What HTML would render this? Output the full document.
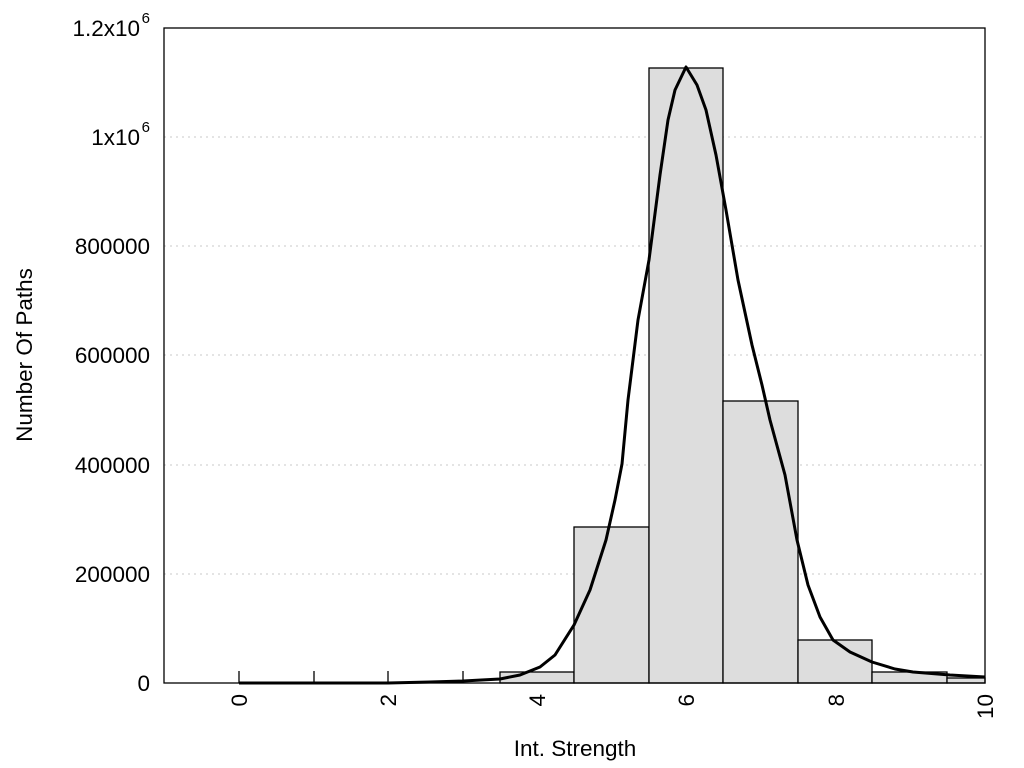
<!DOCTYPE html>
<html><head><meta charset="utf-8"><style>body{margin:0;background:#fff}svg{display:block}text{font-family:"Liberation Sans",sans-serif;font-size:22.5px;fill:#000}</style></head><body>
<svg width="1024" height="768" viewBox="0 0 1024 768">
<g stroke="#c8c8c8" stroke-width="1" stroke-dasharray="2,4">
<line x1="164" y1="137" x2="985" y2="137"/><line x1="164" y1="246" x2="985" y2="246"/><line x1="164" y1="355" x2="985" y2="355"/><line x1="164" y1="465" x2="985" y2="465"/><line x1="164" y1="574" x2="985" y2="574"/>
</g>
<g fill="#dddddd" stroke="#000" stroke-width="1.3">
<rect x="500" y="672" width="74" height="11"/>
<rect x="574" y="527" width="75" height="156"/>
<rect x="649" y="68" width="74" height="615"/>
<rect x="723" y="401" width="75" height="282"/>
<rect x="798" y="640" width="74" height="43"/>
<rect x="872" y="672" width="75" height="11"/>
<rect x="947" y="678" width="38" height="5"/>
</g>
<g stroke="#000" stroke-width="1.3">
<line x1="239" y1="671" x2="239" y2="683"/><line x1="314" y1="671" x2="314" y2="683"/><line x1="388" y1="671" x2="388" y2="683"/><line x1="463" y1="671" x2="463" y2="683"/>
</g>
<polyline fill="none" stroke="#000" stroke-width="3" stroke-linejoin="round" points="239,683 314,683 388,683 430,682 463,681 500,679 520,675 540,667 555,655 574,625 590,590 606,540 615,500 622,464 628,400 638,320 649,260 660,175 668,120 675,90 686,67 697,85 706,110 716,155 726,210 738,280 752,345 762,385 770,420 785,475 797,540 808,585 820,617 833,640 850,652 872,662 895,669 913,672 950,675 985,677"/>
<rect x="164" y="28" width="821" height="655" fill="none" stroke="#000" stroke-width="1.3"/>
<g text-anchor="end">
<text x="150" y="691">0</text>
<text x="150" y="582">200000</text>
<text x="150" y="473">400000</text>
<text x="150" y="363">600000</text>
<text x="150" y="254">800000</text>
<text x="140" y="145">1x10</text><text x="150" y="132" style="font-size:15px">6</text>
<text x="140" y="36">1.2x10</text><text x="150" y="23" style="font-size:15px">6</text>
</g>
<g text-anchor="middle">
<text transform="translate(247,694) rotate(-90)" text-anchor="end">0</text>
<text transform="translate(396,694) rotate(-90)" text-anchor="end">2</text>
<text transform="translate(545,694) rotate(-90)" text-anchor="end">4</text>
<text transform="translate(694,694) rotate(-90)" text-anchor="end">6</text>
<text transform="translate(844,694) rotate(-90)" text-anchor="end">8</text>
<text transform="translate(993,694) rotate(-90)" text-anchor="end">10</text>
<text x="575" y="756">Int. Strength</text>
<text transform="translate(32,355) rotate(-90)">Number Of Paths</text>
</g>
</svg>
</body></html>
